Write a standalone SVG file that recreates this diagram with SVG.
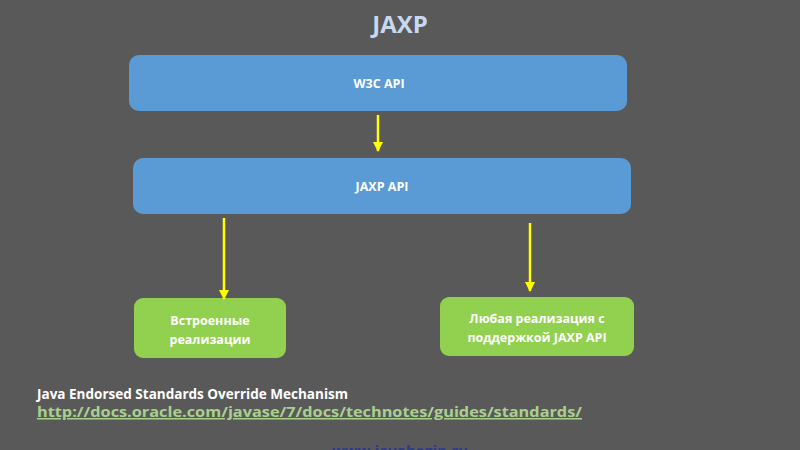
<svg xmlns="http://www.w3.org/2000/svg" width="800" height="450" viewBox="0 0 800 450">
<defs>
<style>
.t{font-family:"Open Sans","Noto Sans",sans-serif;font-weight:bold;fill:#ffffff;text-anchor:middle}
.blue{fill:#5b9bd5}
.green{fill:#92d050}
.c{stroke:#ffff00;stroke-width:2.5;fill:none}
</style>
<marker id="ah" viewBox="0 0 10 10" refX="9" refY="5" markerWidth="4" markerHeight="4" orient="auto" markerUnits="strokeWidth">
<path d="M0,0 L10,5 L0,10 z" fill="#ffff00"/>
</marker>
</defs>
<rect width="800" height="450" fill="#595959"/>
<text x="400" y="33" font-family="Open Sans, sans-serif" font-weight="bold" font-size="24" fill="#c6d9f0" text-anchor="middle">JAXP</text>
<g id="w3c">
<rect class="blue" x="129" y="55" width="498" height="56" rx="10"/>
<text class="t" x="379" y="88" font-size="12.5">W3C API</text>
</g>
<g id="jaxp">
<rect class="blue" x="133" y="158" width="498" height="56" rx="10"/>
<text class="t" x="382" y="191" font-size="12.5">JAXP API</text>
</g>
<g id="builtin">
<rect class="green" x="134" y="298" width="152" height="60" rx="9"/>
<text class="t" x="210" y="325" font-size="12.5">Встроенные</text>
<text class="t" x="210" y="344" font-size="12.5">реализации</text>
</g>
<g id="any">
<rect class="green" x="440" y="297" width="194" height="59" rx="9"/>
<text class="t" x="537" y="323" font-size="12.5">Любая реализация с</text>
<text class="t" x="537" y="342" font-size="12.5">поддержкой JAXP API</text>
</g>
<g id="connectors">
<line class="c" x1="378" y1="115" x2="378" y2="151" marker-end="url(#ah)"/>
<line class="c" x1="224" y1="218" x2="224" y2="299" marker-end="url(#ah)"/>
<line class="c" x1="530" y1="223" x2="530" y2="291" marker-end="url(#ah)"/>
</g>
<text x="37" y="399" font-family="Open Sans, sans-serif" font-weight="bold" font-size="15" fill="#ffffff" textLength="311" lengthAdjust="spacingAndGlyphs">Java Endorsed Standards Override Mechanism</text>
<text x="37" y="417" font-family="Open Sans, sans-serif" font-weight="bold" font-size="15" fill="#a9d18e" text-decoration="underline" textLength="545" lengthAdjust="spacingAndGlyphs">http://docs.oracle.com/javase/7/docs/technotes/guides/standards/</text>
<text x="400" y="456" font-family="Open Sans, sans-serif" font-weight="bold" font-size="15" fill="#2e3a87" text-anchor="middle">www.javabegin.ru</text>
</svg>
